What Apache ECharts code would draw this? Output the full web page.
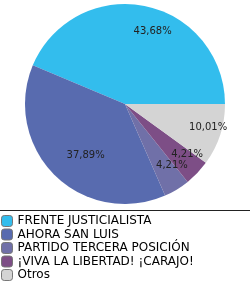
<!DOCTYPE html>
<html><head><meta charset="utf-8">
<script src="https://cdn.jsdelivr.net/npm/echarts@6/dist/echarts.min.js"></script>
<style>html,body{margin:0;padding:0;background:#fff}#c{width:250px;height:285px}</style>
</head><body><div id="c"></div>
<script>
const categories = ['FRENTE JUSTICIALISTA','AHORA SAN LUIS','PARTIDO TERCERA POSICIÓN','¡VIVA LA LIBERTAD! ¡CARAJO!','Otros'];
const values = [43.68, 37.89, 4.21, 4.21, 10.01];
const labels = ['43,68%','37,89%','4,21%','4,21%','10,01%'];
const colors = ['#33BDED','#586BAF','#7070A8','#7D4E86','#D4D4D4'];
// small label nudges (styling) relative to library-computed label anchors
const labelNudge = [[12,5],[16,-5],[6,-6],[5,-4],[8,-1]];

const chart = echarts.init(document.getElementById('c'), null, {renderer:'canvas'});
const font = 'DejaVu Sans, Verdana, sans-serif';
const data = categories.map((n,i)=>({name:n, value:values[i], itemStyle:{color:colors[i]}}));
const labelData = categories.map((n,i)=>({name:n, value:values[i], label:{formatter:labels[i], offset:labelNudge[i]}}));
chart.setOption({
  animation:false,
  color: colors,
  legend:{
    orient:'vertical', left:1, top:215, height:80, padding:0, itemWidth:11, itemHeight:11, itemGap:1.5,
    icon:'roundRect',
    itemStyle:{borderColor:'#777', borderWidth:1},
    textStyle:{fontFamily:font, fontSize:12, lineHeight:12, color:'#000', padding:[0,0,0,0]},
    data: categories
  },
  graphic:[{type:'line', shape:{x1:0,y1:210.5,x2:250,y2:210.5}, style:{stroke:'#222', lineWidth:1}}],
  series:[
    {type:'pie', center:[125,104], radius:[0,100], startAngle:0, clockwise:false,
     label:{show:false}, labelLine:{show:false}, emphasis:{disabled:true}, silent:true,
     data:data},
    {type:'pie', center:[125,104], radius:[0,152], startAngle:0, clockwise:false,
     itemStyle:{color:'rgba(0,0,0,0)'}, labelLine:{show:false}, emphasis:{disabled:true}, silent:true,
     label:{show:true, position:'inside', fontFamily:font, fontSize:10, color:'#222'},
     data:labelData}
  ]
});
</script></body></html>
